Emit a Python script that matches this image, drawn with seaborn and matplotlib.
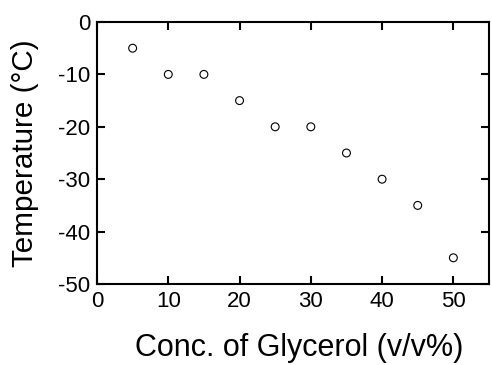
import numpy as np
import pandas as pd
import seaborn as sns
import matplotlib.pyplot as plt

sns.set_style("ticks")
plt.rcParams['font.family'] = ['Liberation Sans', 'DejaVu Sans']
plt.rcParams['axes.unicode_minus'] = False
plt.rcParams['text.color'] = 'black'
plt.rcParams['axes.labelcolor'] = 'black'

glycerol = [5, 10, 15, 20, 25, 30, 35, 40, 45, 50]
temperature = [-5, -10, -10, -15, -20, -20, -25, -30, -35, -45]

df = pd.DataFrame({"conc": glycerol, "temp": temperature})

fig = plt.figure(figsize=(4.92, 3.65), dpi=100)
ax = fig.add_axes([97/492, (365-284)/365, (489-97)/492, (284-22)/365])

sns.scatterplot(x="conc", y="temp", data=df, ax=ax, s=32, marker="o",
                facecolor="none", edgecolor="black", linewidth=0.8)

ax.set_xlim(0, 55)
ax.set_ylim(-50, 0)
ax.set_xticks([0, 10, 20, 30, 40, 50])
ax.set_yticks([0, -10, -20, -30, -40, -50])
ax.tick_params(direction="in", length=6, width=1.5, labelsize=16,
               top=True, right=True, colors="black", pad=5)
for s in ax.spines.values():
    s.set_linewidth(1.5)
    s.set_color("black")

ax.set_xlabel("Conc. of Glycerol (v/v%)", fontsize=22)
ax.set_ylabel("Temperature (°C)", fontsize=21.3)
ax.xaxis.set_label_coords(0.515, -0.187)
ax.yaxis.set_label_coords(-0.148, 0.5)

plt.savefig("out.png", dpi=100)
